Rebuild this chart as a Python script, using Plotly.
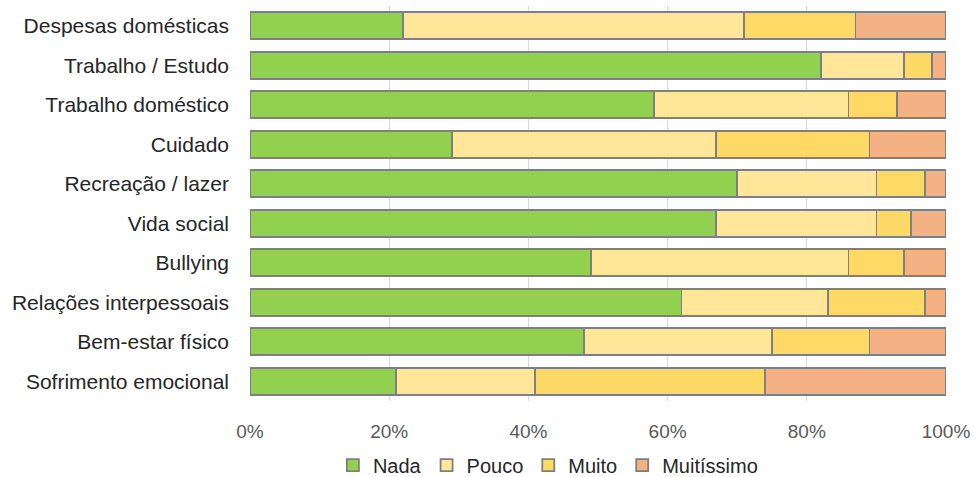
import plotly.graph_objects as go

categories = ["Despesas domésticas", "Trabalho / Estudo", "Trabalho doméstico", "Cuidado",
              "Recreação / lazer", "Vida social", "Bullying", "Relações interpessoais",
              "Bem-estar físico", "Sofrimento emocional"]
nada = [22, 82, 58, 29, 70, 67, 49, 62, 48, 21]
pouco = [49, 12, 28, 38, 20, 23, 37, 21, 27, 20]
muito = [16, 4, 7, 22, 7, 5, 8, 14, 14, 33]
muitissimo = [13, 2, 7, 11, 3, 5, 6, 3, 11, 26]
series_names = ["Nada", "Pouco", "Muito", "Muitíssimo"]
colors = ["#92D050", "#FFE699", "#FFD966", "#F4B183"]
x_ticks = [0, 20, 40, 60, 80, 100]
x_tick_text = ["0%", "20%", "40%", "60%", "80%", "100%"]

FONT = "Liberation Sans, Arial, sans-serif"

fig = go.Figure()
for name, vals, col in zip(series_names, [nada, pouco, muito, muitissimo], colors):
    fig.add_trace(go.Bar(
        y=categories, x=vals, name=name, orientation="h",
        marker=dict(color=col, line=dict(color="#7F7F7F", width=1.8)),
    ))

fig.update_layout(
    barmode="stack",
    bargap=0.32,
    width=974, height=477,
    margin=dict(l=250, r=28, t=6, b=76, autoexpand=False),
    plot_bgcolor="white", paper_bgcolor="white",
    font=dict(family=FONT, size=20, color="#262626"),
    legend=dict(orientation="h", x=0.428, xanchor="center",
                yref="container", y=0.025, yanchor="middle",
                font=dict(size=20, color="#262626"), traceorder="normal",
                itemwidth=30),
    xaxis=dict(range=[0, 100], tickvals=x_ticks, ticktext=x_tick_text,
               showgrid=True, gridcolor="#D9D9D9", gridwidth=1.2, zeroline=False,
               tickfont=dict(size=19, color="#595959"), ticks="", showline=False,
               ticklabelstandoff=17, automargin=False),
    yaxis=dict(autorange="reversed", tickfont=dict(size=21, color="#262626"),
               ticks="", showline=False, ticklabelstandoff=20, automargin=False),
)

fig.write_html("out.html")
